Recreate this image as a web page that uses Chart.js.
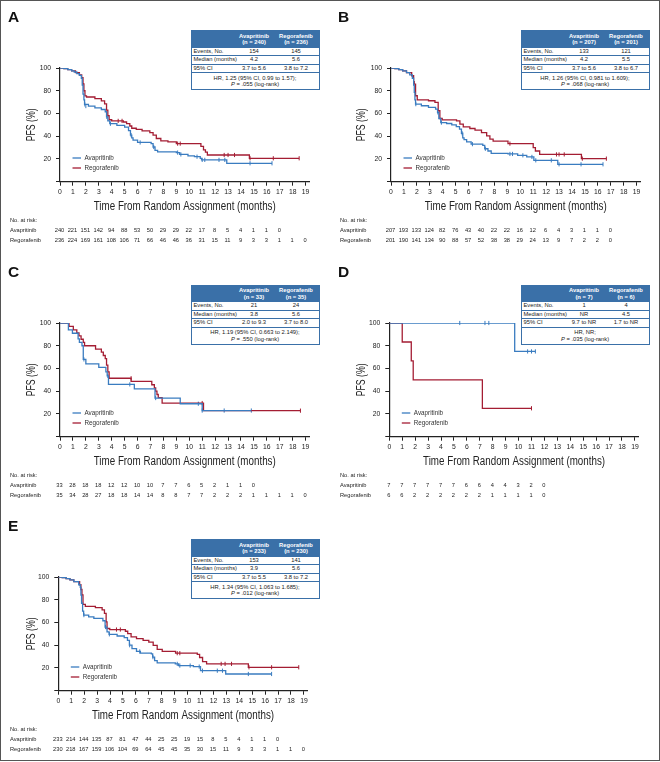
<!DOCTYPE html>
<html>
<head>
<meta charset="utf-8">
<script src="https://cdn.jsdelivr.net/npm/chart.js@4.4.1/dist/chart.umd.min.js"></script>
<style>
body{margin:0;background:#fff;font-family:"Liberation Sans",Arial,sans-serif}
#fig{position:relative;width:660px;height:762px;overflow:hidden}
#frame{position:absolute;left:0;top:0;width:660px;height:761px;box-sizing:border-box;border:1.5px solid #555}
.panel{position:absolute;width:330px;height:255px}
.panel canvas{position:absolute;left:0;top:0}
.let{position:absolute;left:8px;top:9px;font:bold 15.5px/16px "Liberation Sans",Arial,sans-serif;color:#111}
.st{position:absolute;left:190.5px;top:30px;width:129px;height:60px;box-sizing:border-box;border:1.4px solid #3a70a8;font-size:5.8px;color:#222;background:#fff;display:flex;flex-direction:column}
.st .hd{height:16.5px;flex:none;background:#3a70a8;color:#fff;font-weight:bold;display:flex;align-items:center}
.st .rw{height:8.5px;flex:none;box-sizing:border-box;border-bottom:1px solid #3a70a8;display:flex;align-items:center;line-height:7px}
.st .c1{width:46px;padding-left:2px;box-sizing:border-box}
.st .c2{width:33px;text-align:center}
.st .c3{width:48px;text-align:center;padding-left:3px;box-sizing:border-box}
.st .hd span{line-height:6.6px}
.st .ft{flex:1;display:flex;flex-direction:column;justify-content:center;align-items:center;line-height:6.3px}
</style>
</head>
<body>
<div id="fig"><div id="frame"></div></div>
<script>
// PFS curves, [months, PFS %]
const A_ava = [[0,100],[0.3,99.5],[0.6,98.5],[0.9,97.5],[1.1,96.5],[1.3,95],[1.5,93.5],[1.65,91],[1.72,85],[1.78,77],[1.85,72],[1.9,68],[2.2,66.5],[2.7,65],[3.2,63.5],[3.5,61.5],[3.6,57],[3.7,53.5],[3.85,51],[4.4,49.5],[5.0,48],[5.3,45],[5.45,41],[5.55,38.5],[5.65,36.5],[6.0,34.5],[7.05,33.5],[7.2,30.5],[7.35,27.5],[7.55,26.2],[9.0,25.6],[9.25,24],[9.9,22.8],[10.4,22],[10.85,20.5],[10.95,19.2],[12.9,16.2],[16.4,16.2]];
const A_avaCens = [[1.92,68],[2.0,66.5],[3.62,57],[3.9,51],[5.5,41],[6.2,34.5],[7.25,30.5],[9.1,25.6],[9.35,24],[10.6,22],[11.0,19.2],[11.2,19.2],[12.3,19.2],[12.75,19.2],[14.7,16.2],[16.4,16.2]];
const A_reg = [[0,100],[0.3,99.5],[0.6,98.5],[0.9,97.5],[1.2,96],[1.5,94],[1.68,91.5],[1.78,86],[1.85,80],[1.93,75.5],[2.05,74.5],[2.7,73],[3.2,71],[3.45,68.5],[3.6,63],[3.7,58],[3.8,54.5],[4.0,53.5],[4.9,52.5],[5.15,51],[5.4,49],[5.55,47],[5.9,46],[6.35,44.7],[6.95,43.2],[7.2,41],[7.45,38],[7.8,35.9],[8.35,35],[9.0,33.5],[10.9,31],[11.1,28],[11.25,26],[11.4,23.5],[14.65,20.6],[18.5,20.6]];
const A_regCens = [[4.5,53.5],[4.8,53.5],[9.1,33.5],[9.3,33.5],[12.7,23.5],[13.0,23.5],[13.5,23.5],[14.7,20.6],[16.5,20.6],[18.5,20.6]];
const A_riskAva = [240,221,151,142,94,88,53,50,29,29,22,17,8,5,4,1,1,0];
const A_riskReg = [236,224,169,161,108,106,71,66,46,46,36,31,15,11,9,3,3,1,1,0];
const A_stats = ['(n = 240)','(n = 236)','154','145','4.2','5.6','3.7 to 5.6','3.8 to 7.2','HR, 1.25 (95% CI, 0.99 to 1.57);','.055'];

const B_ava = [[0,100],[0.3,99.5],[0.6,98.5],[0.9,97.5],[1.2,96],[1.45,94],[1.65,91],[1.75,85],[1.8,78.5],[1.85,72],[1.9,68.2],[2.35,66.8],[2.9,65.3],[3.45,63.8],[3.6,61],[3.7,55.6],[3.85,52],[4.3,51.2],[4.7,50],[5.05,48.5],[5.3,46.2],[5.45,42.6],[5.55,38.5],[5.65,37],[5.85,35],[6.2,33],[7.1,32],[7.25,29],[7.5,27],[7.75,25],[9.05,24.4],[9.8,23.2],[10.5,21.8],[11.05,18.8],[12.9,15.3],[16.4,15.3]];
const B_avaCens = [[1.92,68.2],[3.62,61],[3.9,52],[5.5,42.6],[6.3,33],[7.3,29],[9.2,24.4],[9.4,24.4],[10.2,23.2],[10.9,21.8],[11.2,18.8],[12.4,18.8],[13.0,15.3],[14.7,15.3],[16.4,15.3]];
const B_reg = [[0,100],[0.3,99.5],[0.6,98.5],[0.9,97.5],[1.2,96],[1.6,93.2],[1.75,88],[1.8,85.9],[1.9,75.6],[2.03,72],[2.9,71.2],[3.4,69.7],[3.65,62.4],[3.78,55.6],[3.96,54.4],[5.07,53.5],[5.33,50.6],[5.59,48.2],[6.1,46.8],[6.5,45.3],[7.0,43.2],[7.4,40.3],[7.65,37.4],[7.9,35.6],[9.05,33.5],[11.0,30],[11.17,27],[11.5,24],[14.73,20.3],[16.66,20.3]];
const B_regCens = [[9.2,33.5],[12.8,24],[13.0,24],[13.4,24],[14.8,20.3],[16.66,20.3]];
const B_riskAva = [207,193,133,124,82,76,43,40,22,22,16,12,6,4,3,1,1,0];
const B_riskReg = [201,190,141,134,90,88,57,52,38,38,29,24,13,9,7,2,2,0];
const B_stats = ['(n = 207)','(n = 201)','133','121','4.2','5.5','3.7 to 5.6','3.8 to 6.7','HR, 1.26 (95% CI, 0.981 to 1.609);','.068'];

const C_ava = [[0,100],[0.65,94],[0.96,91],[1.4,86],[1.5,83],[1.7,80],[1.8,68],[2.0,64],[3.0,61],[3.55,57],[3.65,53.5],[3.75,46],[5.75,42],[7.35,34],[9.3,29],[11.0,23],[14.8,23]];
const C_avaCens = [[1.85,68],[3.7,53.5],[5.4,46],[7.4,34],[10.7,29],[11.0,23],[12.7,23],[14.8,23]];
const C_reg = [[0,100],[0.7,97],[1.03,94],[1.3,91.4],[1.47,88.6],[1.63,85.7],[1.8,82.9],[1.9,80],[2.75,77.1],[3.2,74.3],[3.35,71.4],[3.5,68.6],[3.6,62.9],[3.7,57.1],[3.8,51.4],[5.5,48.6],[7.1,45.7],[7.3,42.9],[7.4,40],[7.5,37.1],[7.6,34.3],[7.9,29.6],[11.1,22.9],[18.6,22.9]];
const C_regCens = [[5.5,51.4],[11.0,29.6],[18.6,22.9]];
const C_riskAva = [33,28,18,18,12,12,10,10,7,7,6,5,2,1,1,0];
const C_riskReg = [35,34,28,27,18,18,14,14,8,8,7,7,2,2,2,1,1,1,1,0];
const C_stats = ['(n = 33)','(n = 35)','21','24','3.8','5.6','2.0 to 9.3','3.7 to 8.0','HR, 1.19 (95% CI, 0.663 to 2.149);','.550'];

const D_ava = [[0,100],[9.7,75],[11.3,75]];
const D_avaCens = [[5.45,100],[7.4,100],[7.7,100],[10.7,75],[11.0,75],[11.3,75]];
const D_reg = [[0,100],[1.0,83.3],[1.7,66.7],[1.85,50],[7.2,25],[11.0,25]];
const D_regCens = [[11.0,25]];
const D_riskAva = [7,7,7,7,7,7,6,6,4,4,3,2,0];
const D_riskReg = [6,6,2,2,2,2,2,2,1,1,1,1,0];
const D_stats = ['(n = 7)','(n = 6)','1','4','NR','4.5','9.7 to NR','1.7 to NR','HR, NR;','.035'];

const E_ava = [[0,100],[0.3,99.5],[0.6,98.5],[0.9,97.5],[1.2,96],[1.58,93.2],[1.7,90.8],[1.75,84],[1.8,76.9],[1.88,70],[1.96,66.5],[2.35,65],[2.75,63.6],[3.45,61.5],[3.62,56],[3.77,51.7],[3.93,49.6],[4.55,48.1],[5.1,46.7],[5.35,44.3],[5.5,40],[5.7,37],[6.05,34.5],[6.35,33],[7.2,32.4],[7.3,29.5],[7.45,26.5],[7.65,24.4],[9.05,23.6],[9.3,22.1],[10.45,21.2],[11.0,17.6],[12.95,14.7],[16.5,14.7]];
const E_avaCens = [[1.98,66.5],[3.65,56],[3.95,49.6],[5.52,40],[6.3,34.5],[7.32,29.5],[9.2,23.6],[9.4,22.1],[10.2,22.1],[10.9,21.2],[11.15,17.6],[12.3,17.6],[12.7,17.6],[14.7,14.7],[16.5,14.7]];
const E_reg = [[0,100],[0.3,99.5],[0.6,98.5],[0.9,97.5],[1.2,96],[1.65,93.2],[1.75,89],[1.83,84.3],[1.91,76],[2.09,74.2],[2.87,73],[3.39,71],[3.57,68],[3.7,60.6],[3.77,54.7],[3.98,53.8],[5.19,52.3],[5.37,50.2],[5.63,47.3],[6.05,45.8],[6.56,44.3],[7.0,42.8],[7.34,39.9],[7.65,36.3],[8.04,34.5],[9.07,33],[10.75,31.9],[10.93,29.2],[11.16,25.6],[11.47,23.6],[14.7,20.6],[18.6,20.6]];
const E_regCens = [[4.5,53.8],[4.8,53.8],[9.2,33],[9.4,33],[12.6,23.6],[12.9,23.6],[13.4,23.6],[14.75,20.6],[16.5,20.6],[18.6,20.6]];
const E_riskAva = [233,214,144,135,87,81,47,44,25,25,19,15,8,5,4,1,1,0];
const E_riskReg = [230,218,167,159,106,104,69,64,45,45,35,30,15,11,9,3,3,1,1,0];
const E_stats = ['(n = 233)','(n = 230)','153','141','3.9','5.6','3.7 to 5.5','3.8 to 7.2','HR, 1.34 (95% CI, 1.063 to 1.685);','.012'];

const seriesNames = ['Avapritinib','Regorafenib'];
const rowNames = ['Events, No.','Median (months)','95% CI'];

const BLUE = '#3a7cc0';
const RED = '#a41d33';
const INK = '#222';

Chart.defaults.font.family = '"Liberation Sans", Arial, sans-serif';

// panel placement on the page
const panels = [
  {id:'A', x:0,   y:0,     left:60,   ava:A_ava, avaC:A_avaCens, reg:A_reg, regC:A_regCens, rA:A_riskAva, rR:A_riskReg, st:A_stats},
  {id:'B', x:330, y:0,     left:61,   ava:B_ava, avaC:B_avaCens, reg:B_reg, regC:B_regCens, rA:B_riskAva, rR:B_riskReg, st:B_stats},
  {id:'C', x:0,   y:254.7, left:60,   ava:C_ava, avaC:C_avaCens, reg:C_reg, regC:C_regCens, rA:C_riskAva, rR:C_riskReg, st:C_stats},
  {id:'D', x:330, y:254.7, left:59.3, ava:D_ava, avaC:D_avaCens, reg:D_reg, regC:D_regCens, rA:D_riskAva, rR:D_riskReg, st:D_stats},
  {id:'E', x:0,   y:509,   left:58.3, ava:E_ava, avaC:E_avaCens, reg:E_reg, regC:E_regCens, rA:E_riskAva, rR:E_riskReg, st:E_stats}
];

function pts(arr){ return arr.map(p => ({x:p[0], y:p[1]})); }

function fitText(ctx, txt, x, y, w, rot){
  ctx.save();
  ctx.translate(x, y);
  if (rot) ctx.rotate(rot);
  const m = ctx.measureText(txt).width;
  ctx.scale(Math.min(1, w/m), 1);
  ctx.fillText(txt, 0, 0);
  ctx.restore();
}

function statsTable(st){
  return '<div class="st">' +
    '<div class="hd"><span class="c1"></span><span class="c2">' + seriesNames[0] + '<br>' + st[0] + '</span><span class="c3">' + seriesNames[1] + '<br>' + st[1] + '</span></div>' +
    '<div class="rw"><span class="c1">' + rowNames[0] + '</span><span class="c2">' + st[2] + '</span><span class="c3">' + st[3] + '</span></div>' +
    '<div class="rw"><span class="c1">' + rowNames[1] + '</span><span class="c2">' + st[4] + '</span><span class="c3">' + st[5] + '</span></div>' +
    '<div class="rw"><span class="c1">' + rowNames[2] + '</span><span class="c2">' + st[6] + '</span><span class="c3">' + st[7] + '</span></div>' +
    '<div class="ft"><div>' + st[8] + '</div><div><i>P</i> = ' + st[9] + ' (log-rank)</div></div></div>';
}

function drawPanel(p){
  const wrap = document.createElement('div');
  wrap.className = 'panel';
  wrap.style.left = p.x + 'px';
  wrap.style.top = p.y + 'px';
  const cv = document.createElement('canvas');
  cv.width = 330; cv.height = 255;
  wrap.appendChild(cv);
  wrap.insertAdjacentHTML('beforeend', '<div class="let">' + p.id + '</div>' + statsTable(p.st));
  document.getElementById('fig').appendChild(wrap);

  const extras = {
    id: 'extras',
    afterDraw(chart){
      const ctx = chart.ctx, a = chart.chartArea, xs = chart.scales.x;
      ctx.save();
      ctx.fillStyle = INK;
      ctx.textBaseline = 'middle';
      // axis titles
      ctx.textAlign = 'center';
      ctx.font = '12.5px "Liberation Sans", Arial, sans-serif';
      fitText(ctx, 'Time From Random Assignment (months)', (a.left + a.right) / 2, 206.7, 182);
      ctx.font = '12px "Liberation Sans", Arial, sans-serif';
      fitText(ctx, 'PFS (%)', 31.7, (a.top + a.bottom) / 2, 33, -Math.PI / 2);
      // legend
      ctx.textAlign = 'left';
      ctx.font = '6.3px "Liberation Sans", Arial, sans-serif';
      [[BLUE, 158, seriesNames[0]], [RED, 168, seriesNames[1]]].forEach(l => {
        ctx.strokeStyle = l[0];
        ctx.lineWidth = 1.3;
        ctx.beginPath();
        ctx.moveTo(a.left + 12.5, l[1]);
        ctx.lineTo(a.left + 21, l[1]);
        ctx.stroke();
        ctx.fillStyle = '#333';
        ctx.fillText(l[2], a.left + 24.5, l[1]);
      });
      // number at risk
      ctx.fillStyle = INK;
      ctx.font = '5.7px "Liberation Sans", Arial, sans-serif';
      ctx.fillText('No. at risk:', 10, 220);
      ctx.fillText(seriesNames[0], 10, 230);
      ctx.fillText(seriesNames[1], 10, 240);
      ctx.textAlign = 'center';
      p.rA.forEach((n, i) => ctx.fillText(String(n), xs.getPixelForValue(i) - 0.5, 230));
      p.rR.forEach((n, i) => ctx.fillText(String(n), xs.getPixelForValue(i) - 0.5, 240));
      ctx.restore();
    }
  };

  const tickFont = {size: 6.8};
  new Chart(cv.getContext('2d'), {
    type: 'line',
    data: {
      datasets: [
        {label: seriesNames[0], data: pts(p.ava), stepped: true, borderColor: BLUE, borderWidth: 1.3, pointRadius: 0, fill: false},
        {label: seriesNames[1], data: pts(p.reg), stepped: true, borderColor: RED, borderWidth: 1.3, pointRadius: 0, fill: false},
        {label: 'cens1', data: pts(p.avaC), showLine: false, pointStyle: 'line', rotation: 90, pointRadius: 2.1, borderColor: BLUE, borderWidth: 1, clip: 6},
        {label: 'cens2', data: pts(p.regC), showLine: false, pointStyle: 'line', rotation: 90, pointRadius: 2.1, borderColor: RED, borderWidth: 1, clip: 6}
      ]
    },
    options: {
      responsive: false,
      animation: false,
      events: [],
      layout: {padding: {left: 0, top: 68, right: 330 - p.left - 249.5, bottom: 0}},
      plugins: {legend: {display: false}, tooltip: {enabled: false}},
      scales: {
        x: {
          type: 'linear', min: 0, max: 19.3,
          afterFit: s => { s.height = 255 - 181.7; },
          ticks: {stepSize: 1, includeBounds: false, padding: 2.5, font: tickFont, color: INK, maxRotation: 0, autoSkip: false},
          grid: {drawOnChartArea: false, tickLength: 4, color: INK, tickWidth: 1},
          border: {color: INK, width: 1.2}
        },
        y: {
          min: 0, max: 100,
          afterFit: s => { s.width = p.left; },
          ticks: {stepSize: 20, padding: 5, font: tickFont, color: INK, callback: v => v === 0 ? '' : v},
          grid: {drawOnChartArea: false, tickLength: 4, color: INK, tickWidth: 1},
          border: {color: INK, width: 1.2}
        }
      }
    },
    plugins: [extras]
  });
}

panels.forEach(drawPanel);
</script>
</body>
</html>
